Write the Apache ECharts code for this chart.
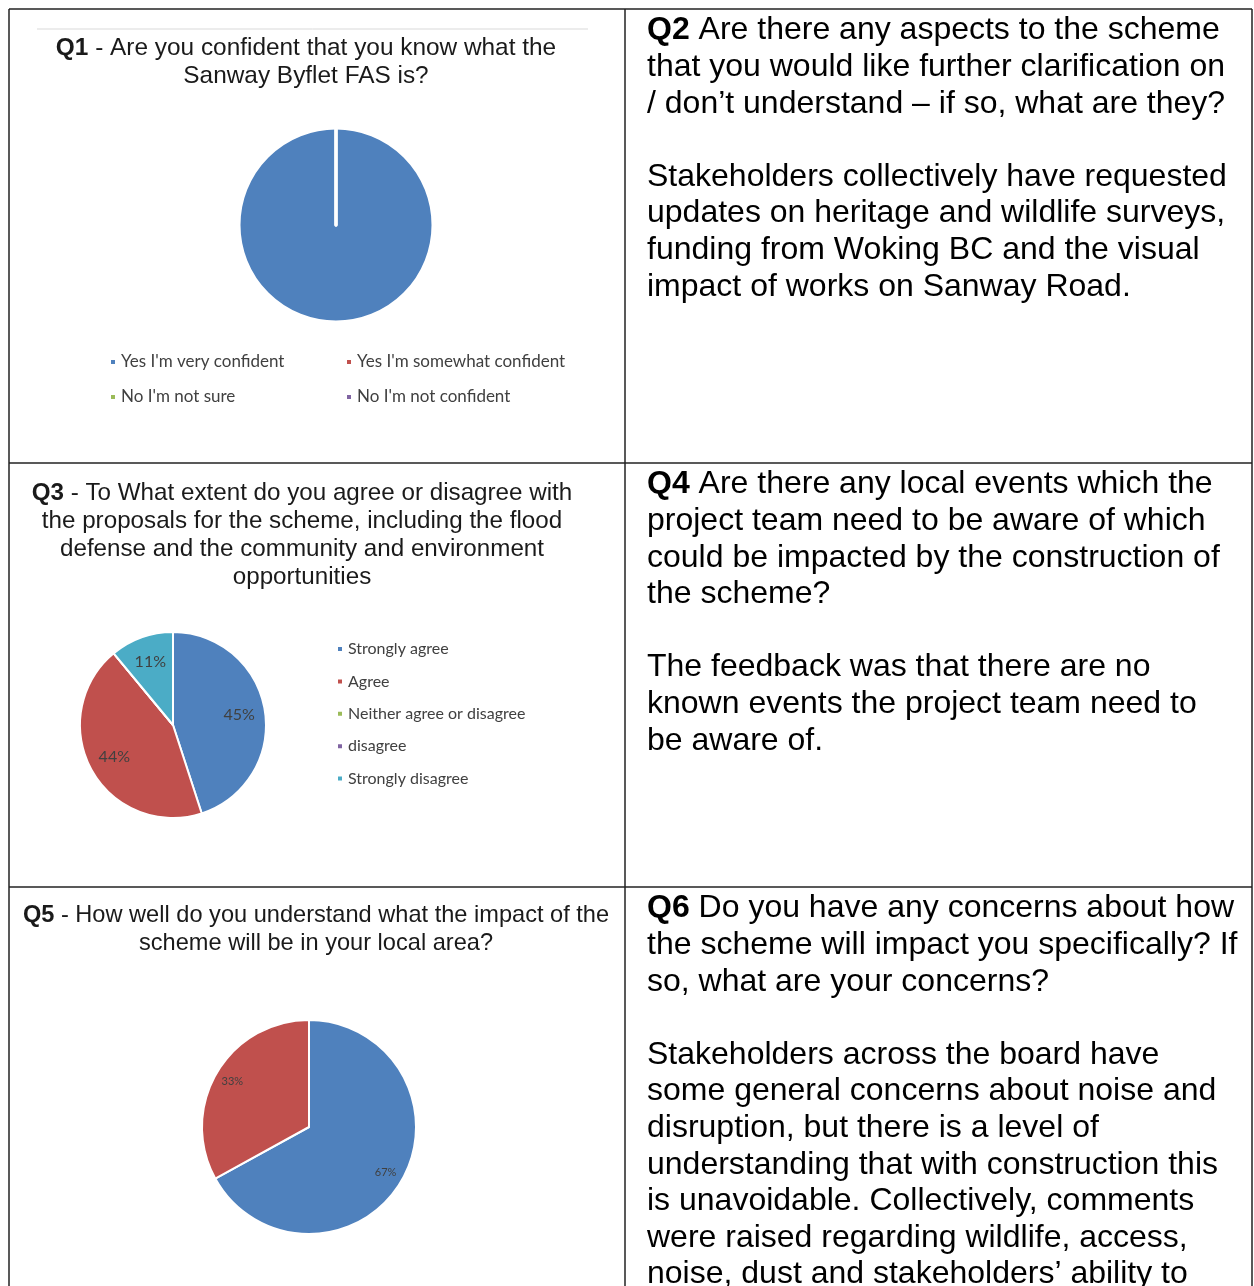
<!DOCTYPE html>
<html>
<head>
<meta charset="utf-8">
<title>Sanway Byfleet FAS - stakeholder feedback</title>
<script src="https://cdn.jsdelivr.net/npm/echarts@6/dist/echarts.min.js"></script>
<style>
  html, body { margin: 0; padding: 0; background: #fff; }
  #main { width: 1254px; height: 1286px; }
</style>
</head>
<body>
<div id="main"></div>
<script>
// Q1 - confidence
var q1Names = ["Yes I'm very confident", "Yes I'm somewhat confident", "No I'm not sure", "No I'm not confident"]
var q1Values = [100, 0, 0, 0]
// Q3 - agree / disagree
var q3Names = ['Strongly agree', 'Agree', 'Neither agree or disagree', 'disagree', 'Strongly disagree']
var q3Values = [45, 44, 0, 0, 11]
// Q5 - understanding of local impact (no legend on the slide)
var q5Names = ['Q5 answer 1', 'Q5 answer 2']
var q5Values = [67, 33]

var palette = ['#4F81BD', '#C0504D', '#9BBB59', '#8064A2', '#4BACC6']

var q1Title = ['{b|Q1} - Are you confident that you know what the', 'Sanway Byflet FAS is?']
var q3Title = ['{b|Q3} - To What extent do you agree or disagree with', 'the proposals for the scheme, including the flood',
  'defense and the community and environment', 'opportunities']
var q5Title = ['{b|Q5} - How well do you understand what the impact of the', 'scheme will be in your local area?']

var q2Text = ['{b|Q2} Are there any aspects to the scheme', 'that you would like further clarification on',
  '/ don\u2019t understand \u2013 if so, what are they?', '',
  'Stakeholders collectively have requested', 'updates on heritage and wildlife surveys,',
  'funding from Woking BC and the visual', 'impact of works on Sanway Road.']
var q4Text = ['{b|Q4} Are there any local events which the', 'project team need to be aware of which',
  'could be impacted by the construction of', 'the scheme?', '',
  'The feedback was that there are no', 'known events the project team need to', 'be aware of.']
var q6Text = ['{b|Q6} Do you have any concerns about how', 'the scheme will impact you specifically? If',
  'so, what are your concerns?', '',
  'Stakeholders across the board have', 'some general concerns about noise and',
  'disruption, but there is a level of', 'understanding that with construction this',
  'is unavoidable. Collectively, comments', 'were raised regarding wildlife, access,',
  'noise, dust and stakeholders\u2019 ability to']

var ARIAL = '"Liberation Sans", Arial, sans-serif'
var CALIBRI = 'Lato, "Open Sans", sans-serif'

function toData (names, values) {
  return names.map(function (n, i) {
    return { name: n, value: values[i], itemStyle: { color: palette[i % palette.length] } }
  })
}

// visible pie + transparent ring on top that only carries the % labels
function pie (names, values, center, r, labelR, labelSize, border) {
  var list = [{
    type: 'pie',
    center: center,
    radius: [0, r],
    startAngle: 90,
    data: toData(names, values),
    itemStyle: { borderColor: '#fff', borderWidth: border },
    label: { show: false },
    labelLine: { show: false },
    emphasis: { disabled: true },
    silent: true
  }]
  if (labelR) {
    list.push({
      type: 'pie',
      center: center,
      radius: [2 * labelR - r, r],
      startAngle: 90,
      data: names.map(function (n, i) { return { name: n, value: values[i] } }),
      itemStyle: { color: 'rgba(0,0,0,0)', borderWidth: 0 },
      label: {
        show: true,
        position: 'inside',
        fontFamily: CALIBRI,
        fontSize: labelSize,
        color: '#404040',
        formatter: function (p) { return p.value ? p.value + '%' : '' }
      },
      labelLine: { show: false },
      emphasis: { disabled: true },
      silent: true
    })
  }
  return list
}

function lines (texts, x, y0, lh, align, size, color) {
  return texts.map(function (t, i) {
    return {
      type: 'text',
      x: x,
      y: y0 + i * lh,
      silent: true,
      style: {
        text: t,
        textAlign: align,
        align: align,
        textVerticalAlign: 'middle',
        verticalAlign: 'middle',
        fontFamily: ARIAL,
        fontSize: size,
        fill: color,
        rich: {
          b: { fontFamily: ARIAL, fontSize: size, fontWeight: 'bold', fill: color, color: color }
        }
      }
    }
  })
}

function rule (x1, y1, x2, y2, color, w) {
  return { type: 'line', silent: true, shape: { x1: x1, y1: y1, x2: x2, y2: y2 }, style: { stroke: color, lineWidth: w } }
}

var legendBase = {
  orient: 'vertical',
  icon: 'rect',
  itemWidth: 6,
  itemHeight: 6,
  padding: 0,
  selectedMode: false,
  textStyle: { fontFamily: CALIBRI, fontSize: 16, color: '#404040', lineHeight: 17 }
}

var graphics = [
  rule(9, 9, 1252, 9, '#222', 1.5),
  rule(9, 9, 9, 1286, '#222', 1.5),
  rule(625, 9, 625, 1286, '#222', 1.5),
  rule(1252, 9, 1252, 1286, '#222', 1.5),
  rule(9, 463, 1252, 463, '#222', 1.5),
  rule(9, 887, 1252, 887, '#222', 1.5),
  rule(37, 29, 588, 29, '#d9d9d9', 1)
]
graphics = graphics
  .concat(lines(q1Title, 306, 48.5, 28, 'center', 24.4, '#1a1a1a'))
  .concat(lines(q3Title, 302, 493.5, 28, 'center', 24.2, '#1a1a1a'))
  .concat(lines(q5Title, 316, 915.5, 28, 'center', 23.6, '#1a1a1a'))
  .concat(lines(q2Text, 647, 30.5, 36.6, 'left', 32, '#000'))
  .concat(lines(q4Text, 647, 484.5, 36.6, 'left', 32, '#000'))
  .concat(lines(q6Text, 647, 908.5, 36.6, 'left', 32, '#000'))

var chart = echarts.init(document.getElementById('main'))
chart.setOption({
  backgroundColor: '#fff',
  animation: false,
  legend: [
    Object.assign({}, legendBase, { data: [q1Names[0], q1Names[2]], left: 109, top: 353.5, itemGap: 18,
      textStyle: Object.assign({}, legendBase.textStyle, { fontSize: 17 }) }),
    Object.assign({}, legendBase, { data: [q1Names[1], q1Names[3]], left: 345, top: 353.5, itemGap: 18,
      textStyle: Object.assign({}, legendBase.textStyle, { fontSize: 17 }) }),
    Object.assign({}, legendBase, { data: q3Names, left: 336, top: 640.5, itemGap: 15.4 })
  ],
  series: []
    .concat(pie(q1Names, q1Values, [336, 225], 97, 0, 0, 3))
    .concat(pie(q3Names, q3Values, [173, 725], 93, 64, 16, 2))
    .concat(pie(q5Names, q5Values, [309, 1127], 107, 86, 11, 2)),
  graphic: graphics
})
</script>
</body>
</html>
